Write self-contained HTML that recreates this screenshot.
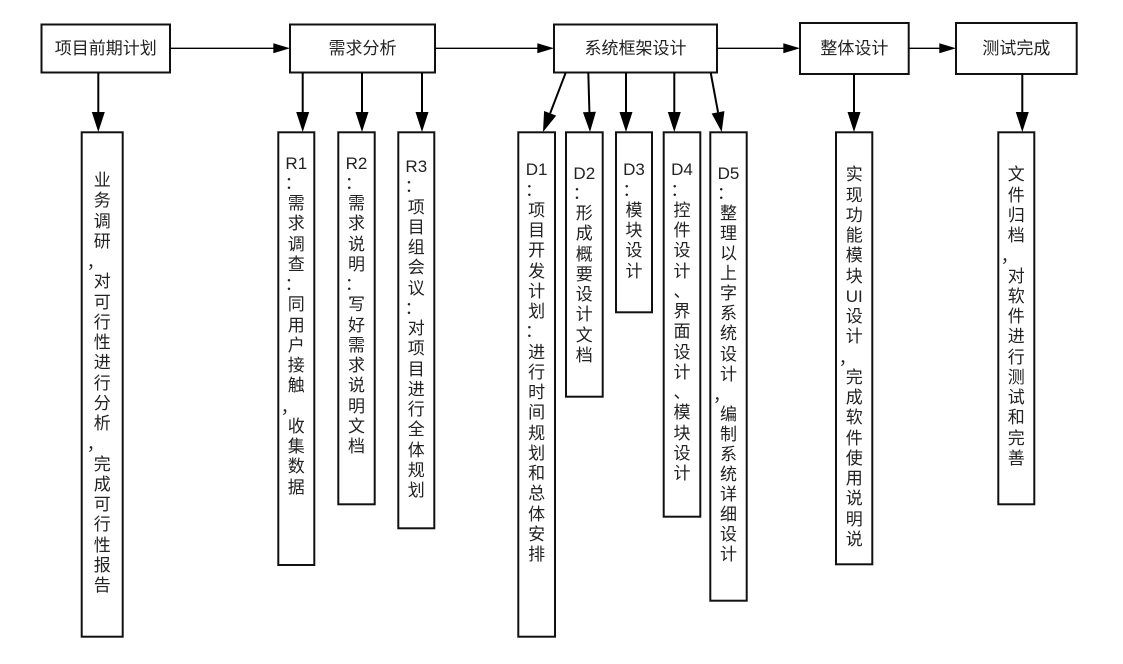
<!DOCTYPE html>
<html>
<head>
<meta charset="utf-8">
<style>
  html, body { margin:0; padding:0; background:#fff; }
  body { width:1123px; height:664px; position:relative; overflow:hidden; }
  svg { position:absolute; left:0; top:0; }
  .t {
    position:absolute;
    font-family:"Liberation Sans","Noto Sans CJK SC",sans-serif;
    font-size:17px;
    line-height:20.25px;
    color:#222;
    text-align:center;
    white-space:nowrap;
  }
  .v { width:40px; }
  .c { position:relative; left:-7px; top:1px; }
  .k { position:relative; left:-3px; }
</style>
</head>
<body>
<svg width="1123" height="664" viewBox="0 0 1123 664" xmlns="http://www.w3.org/2000/svg">
  <g fill="#fff" stroke="#111" stroke-width="2">
    <rect x="41.5" y="24.5" width="128.5" height="48"/>
    <rect x="290" y="24.5" width="145" height="48"/>
    <rect x="554" y="24.5" width="163" height="48"/>
    <rect x="800" y="23" width="108.7" height="51"/>
    <rect x="956" y="23" width="120.7" height="51"/>
    <rect x="81.7" y="132.3" width="41" height="504.4"/>
    <rect x="278.3" y="132.3" width="36" height="432.7"/>
    <rect x="338.3" y="132.3" width="36.4" height="372"/>
    <rect x="398.3" y="132.3" width="36" height="396"/>
    <rect x="518.3" y="132.3" width="36.7" height="504.4"/>
    <rect x="566" y="132.3" width="36.7" height="264.4"/>
    <rect x="616" y="132.3" width="36" height="180"/>
    <rect x="663.7" y="132.3" width="36.6" height="384.4"/>
    <rect x="710.3" y="132.3" width="36.4" height="468.4"/>
    <rect x="836" y="132.3" width="36.3" height="432"/>
    <rect x="998.3" y="132.3" width="36" height="372"/>
  </g>

  <g stroke="#000" stroke-width="1.3">
    <line x1="170" y1="48.3" x2="274" y2="48.3"/>
    <line x1="435" y1="48.3" x2="538" y2="48.3"/>
    <line x1="717" y1="48.3" x2="784" y2="48.3"/>
    <line x1="908.7" y1="48.3" x2="940" y2="48.3"/>
  </g>
  <g fill="#000">
    <polygon points="290,48.3 273.3,43.3 273.3,53.3"/>
    <polygon points="554,48.3 537.3,43.3 537.3,53.3"/>
    <polygon points="800,48.3 783.3,43.3 783.3,53.3"/>
    <polygon points="956,48.3 939.3,43.3 939.3,53.3"/>
  </g>

  <g stroke="#000" stroke-width="2">
    <line x1="98.3" y1="72.7" x2="98.3" y2="113"/>
    <line x1="302.7" y1="72.7" x2="302.7" y2="113"/>
    <line x1="362" y1="72.7" x2="362" y2="113"/>
    <line x1="422" y1="72.7" x2="422" y2="113"/>
    <line x1="565.7" y1="72.7" x2="550.15" y2="113.32"/>
    <line x1="588.3" y1="72.7" x2="589.43" y2="112.5"/>
    <line x1="626" y1="72.7" x2="626" y2="113"/>
    <line x1="674.3" y1="72.7" x2="674.3" y2="113"/>
    <line x1="710.7" y1="72.7" x2="718.05" y2="112.33"/>
    <line x1="854" y1="74" x2="854" y2="113"/>
    <line x1="1022.3" y1="74" x2="1022.3" y2="113"/>
  </g>
  <g fill="#000">
    <polygon points="98.3,132 91.8,112 104.8,112"/>
    <polygon points="302.7,132 296.2,112 309.2,112"/>
    <polygon points="362,132 355.5,112 368.5,112"/>
    <polygon points="422,132 415.5,112 428.5,112"/>
    <polygon points="543,132 556.22,115.64 544.08,111.0"/>
    <polygon points="590,132 595.93,111.8 582.93,112.2"/>
    <polygon points="626,132 619.5,112 632.5,112"/>
    <polygon points="674.3,132 667.8,112 680.8,112"/>
    <polygon points="721.7,132 724.44,111.14 711.66,113.52"/>
    <polygon points="854,132 847.5,112 860.5,112"/>
    <polygon points="1022.3,132 1015.8,112 1028.8,112"/>
  </g>
</svg>

<div class="t" style="left:41.5px;top:38.7px;width:128.5px;">项目前期计划</div>
<div class="t" style="left:290px;top:38.7px;width:145px;">需求分析</div>
<div class="t" style="left:554px;top:38.7px;width:163px;">系统框架设计</div>
<div class="t" style="left:800px;top:38.6px;width:108.7px;">整体设计</div>
<div class="t" style="left:956px;top:38.6px;width:120.7px;">测试完成</div>

<div class="t v" style="left:82.2px;top:171.1px;">业<br>务<br>调<br>研<br><span class="c">，</span><br>对<br>可<br>行<br>性<br>进<br>行<br>分<br>析<br><span class="c">，</span><br>完<br>成<br>可<br>行<br>性<br>报<br>告</div>

<div class="t v" style="left:276.3px;top:153.7px;">R1<br><span class="k">：</span><br>需<br>求<br>调<br>查<br><span class="k">：</span><br>同<br>用<br>户<br>接<br>触<br><span class="c">，</span><br>收<br>集<br>数<br>据</div>

<div class="t v" style="left:336.5px;top:153.7px;">R2<br><span class="k">：</span><br>需<br>求<br>说<br>明<br><span class="k">：</span><br>写<br>好<br>需<br>求<br>说<br>明<br>文<br>档</div>

<div class="t v" style="left:396.3px;top:157.1px;">R3<br><span class="k">：</span><br>项<br>目<br>组<br>会<br>议<br><span class="k">：</span><br>对<br>项<br>目<br>进<br>行<br>全<br>体<br>规<br>划</div>

<div class="t v" style="left:516.6px;top:160.4px;">D1<br><span class="k">：</span><br>项<br>目<br>开<br>发<br>计<br>划<br><span class="k">：</span><br>进<br>行<br>时<br>间<br>规<br>划<br>和<br>总<br>体<br>安<br>排</div>

<div class="t v" style="left:564.3px;top:163.7px;">D2<br><span class="k">：</span><br>形<br>成<br>概<br>要<br>设<br>计<br>文<br>档</div>

<div class="t v" style="left:614px;top:160.4px;">D3<br><span class="k">：</span><br>模<br>块<br>设<br>计</div>

<div class="t v" style="left:662px;top:160.4px;">D4<br><span class="k">：</span><br>控<br>件<br>设<br>计<br>、<br>界<br>面<br>设<br>计<br>、<br>模<br>块<br>设<br>计</div>

<div class="t v" style="left:708.5px;top:163.7px;line-height:20.1px;">D5<br><span class="k">：</span><br>整<br>理<br>以<br>上<br>字<br>系<br>统<br>设<br>计<br><span class="c">，</span><br>编<br>制<br>系<br>统<br>详<br>细<br>设<br>计</div>

<div class="t v" style="left:834.2px;top:165.4px;">实<br>现<br>功<br>能<br>模<br>块<br>UI<br>设<br>计<br><span class="c">，</span><br>完<br>成<br>软<br>件<br>使<br>用<br>说<br>明<br>说</div>

<div class="t v" style="left:996.3px;top:165.4px;">文<br>件<br>归<br>档<br><span class="c">，</span><br>对<br>软<br>件<br>进<br>行<br>测<br>试<br>和<br>完<br>善</div>
</body>
</html>
